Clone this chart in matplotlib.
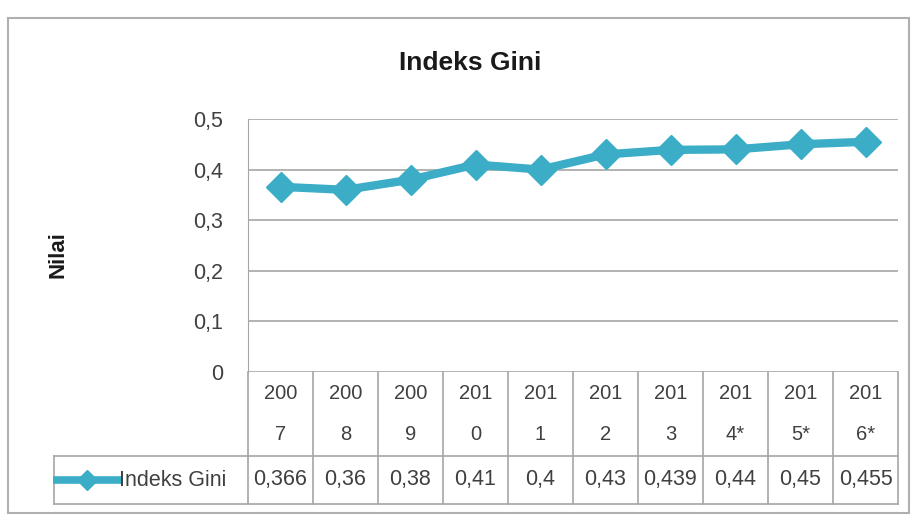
import matplotlib
matplotlib.use("Agg")
import matplotlib.pyplot as plt
from matplotlib.patches import Rectangle
import matplotlib.transforms as mtransforms

plt.rcParams['font.family'] = ['Liberation Sans Narrow', 'Liberation Sans', 'DejaVu Sans']

years = ['2007', '2008', '2009', '2010', '2011', '2012', '2013', '2014*', '2015*', '2016*']
values = [0.366, 0.36, 0.38, 0.41, 0.4, 0.43, 0.439, 0.44, 0.45, 0.455]
value_labels = ['0,366', '0,36', '0,38', '0,41', '0,4', '0,43', '0,439', '0,44', '0,45', '0,455']
series_name = 'Indeks Gini'

line_col = '#3badc6'
grid_col = '#a6a6a6'
text_col = '#404040'

W, H = 913, 514
fig = plt.figure(figsize=(W / 100, H / 100), dpi=100)

# outer chart border
fig.patches.append(Rectangle((8 / W, 0.002), (W - 12) / W, (H - 19) / H,
                             transform=fig.transFigure, fill=False,
                             edgecolor='#b0b0b0', lw=1.5))

ax = fig.add_axes([248 / W, (H - 372) / H, 650 / W, 253 / H])
x = list(range(len(years)))
ax.plot(x, values, color=line_col, lw=6, marker='D', ms=15,
        markeredgecolor=line_col, zorder=3)
ax.set_xlim(-0.5, len(years) - 0.5)
ax.set_ylim(0, 0.5)
ax.set_yticks([0, 0.1, 0.2, 0.3, 0.4, 0.5])
ax.set_yticklabels(['0', '0,1', '0,2', '0,3', '0,4', '0,5'], fontsize=15.5, color=text_col)
ax.tick_params(axis='y', length=0, pad=18)
ax.set_xticks([])
ax.grid(axis='y', color=grid_col, lw=1.2)
for s in ['top', 'right', 'bottom']:
    ax.spines[s].set_visible(False)
ax.spines['left'].set_color(grid_col)
ax.set_axisbelow(True)

fig.text(58 / W, 1 - 255 / H, 'Nilai', rotation=90, ha='center', va='center',
         fontsize=16, fontweight='bold', color='#1a1a1a')
fig.text(470 / W, 1 - 63 / H, 'Indeks Gini', ha='center', va='center',
         fontsize=19, fontweight='bold', color='#1a1a1a')

# data table below the plot
ph = 253.0
hdr = -84 / ph
bot = -132 / ph
left_cell = (54 - 248) / 650 * len(years) - 0.5
tr = mtransforms.blended_transform_factory(ax.transData, ax.transAxes)
lk = dict(color=grid_col, lw=1.2, transform=tr, clip_on=False)
ax.plot([left_cell, len(years) - 0.5], [hdr, hdr], **lk)
ax.plot([left_cell, len(years) - 0.5], [bot, bot], **lk)
ax.plot([left_cell, left_cell], [hdr, bot], **lk)
for i in range(len(years) + 1):
    ax.plot([i - 0.5, i - 0.5], [0, bot], **lk)

for i, (yr, lab) in enumerate(zip(years, value_labels)):
    ax.text(i, hdr / 2, yr[:3] + '\n' + yr[3:], transform=tr, ha='center', va='center',
            fontsize=14.5, color=text_col, linespacing=2.45)
    ax.text(i, (hdr + bot) / 2, lab, transform=tr, ha='center', va='center',
            fontsize=15.5, color=text_col)

# legend key inside the row label cell
kx0 = left_cell + 0.04
kx1 = left_cell + 0.98
ky = (hdr + bot) / 2
ax.plot([kx0, kx1], [ky, ky], color=line_col, lw=5.5, transform=tr, clip_on=False)
ax.plot([(kx0 + kx1) / 2], [ky], marker='D', ms=10, color=line_col,
        transform=tr, clip_on=False)
ax.text(kx1 + 0.02, ky, series_name, transform=tr, ha='left', va='center',
        fontsize=15.5, color=text_col)

fig.savefig('out.png', dpi=100)
